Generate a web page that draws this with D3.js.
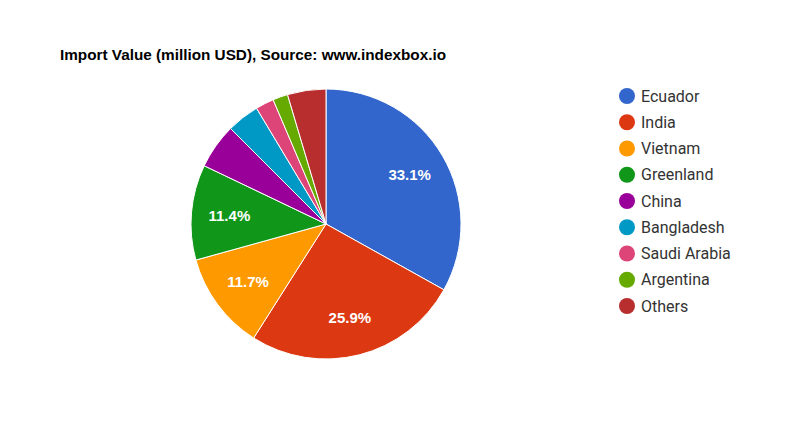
<!DOCTYPE html>
<html><head><meta charset="utf-8">
<script src="https://cdn.jsdelivr.net/npm/d3@7"></script>
<style>body{margin:0;background:#fff}</style>
</head><body>
<svg id="c" width="800" height="427"></svg>
<script>
const categories = ["Ecuador","India","Vietnam","Greenland","China","Bangladesh","Saudi Arabia","Argentina","Others"];
const values = [33.1,25.9,11.7,11.4,5.4,3.9,2.2,1.8,4.6];
const colors = ["#3366cc","#dc3912","#ff9900","#109618","#990099","#0099c6","#dd4477","#66aa00","#b82e2e"];
const title = "Import Value (million USD), Source: www.indexbox.io";

const svg = d3.select("#c");
svg.append("text").attr("x",60).attr("y",60).attr("font-family","Arial, Liberation Sans, sans-serif")
  .attr("font-size",14.5).attr("font-weight","bold").attr("fill","#000")
  .attr("textLength",386).attr("lengthAdjust","spacingAndGlyphs").text(title);

const cx=326, cy=224, r=135;
const data = categories.map((c,i)=>({name:c,value:values[i],color:colors[i]}));
const pie = d3.pie().value(d=>d.value).sort(null);
const arc = d3.arc().innerRadius(0).outerRadius(r);
const lab = d3.arc().innerRadius(97).outerRadius(97);
const g = svg.append("g").attr("transform",`translate(${cx},${cy})`);
const arcs = pie(data);
g.selectAll("path").data(arcs).join("path").attr("d",arc).attr("fill",d=>d.data.color)
  .attr("stroke","#fff").attr("stroke-width",1);
const total = d3.sum(values);
g.selectAll("text").data(arcs.filter(d=>d.data.value/total>0.1)).join("text")
  .attr("transform",d=>`translate(${lab.centroid(d)})`).attr("text-anchor","middle").attr("dy","0.36em")
  .attr("font-family","Arial, Liberation Sans, sans-serif").attr("font-size",15).attr("font-weight","bold").attr("fill","#fff")
  .text(d=>d.data.value.toFixed(1)+"%");

const lg = svg.append("g");
const items = lg.selectAll("g").data(data).join("g").attr("transform",(d,i)=>`translate(627,${96+i*26.25})`);
items.append("circle").attr("r",8).attr("fill",d=>d.color);
items.append("text").attr("x",14).attr("dy","0.35em").attr("font-family","Roboto, sans-serif").attr("font-size",16)
  .attr("fill","#333").text(d=>d.name);
</script>
</body></html>
